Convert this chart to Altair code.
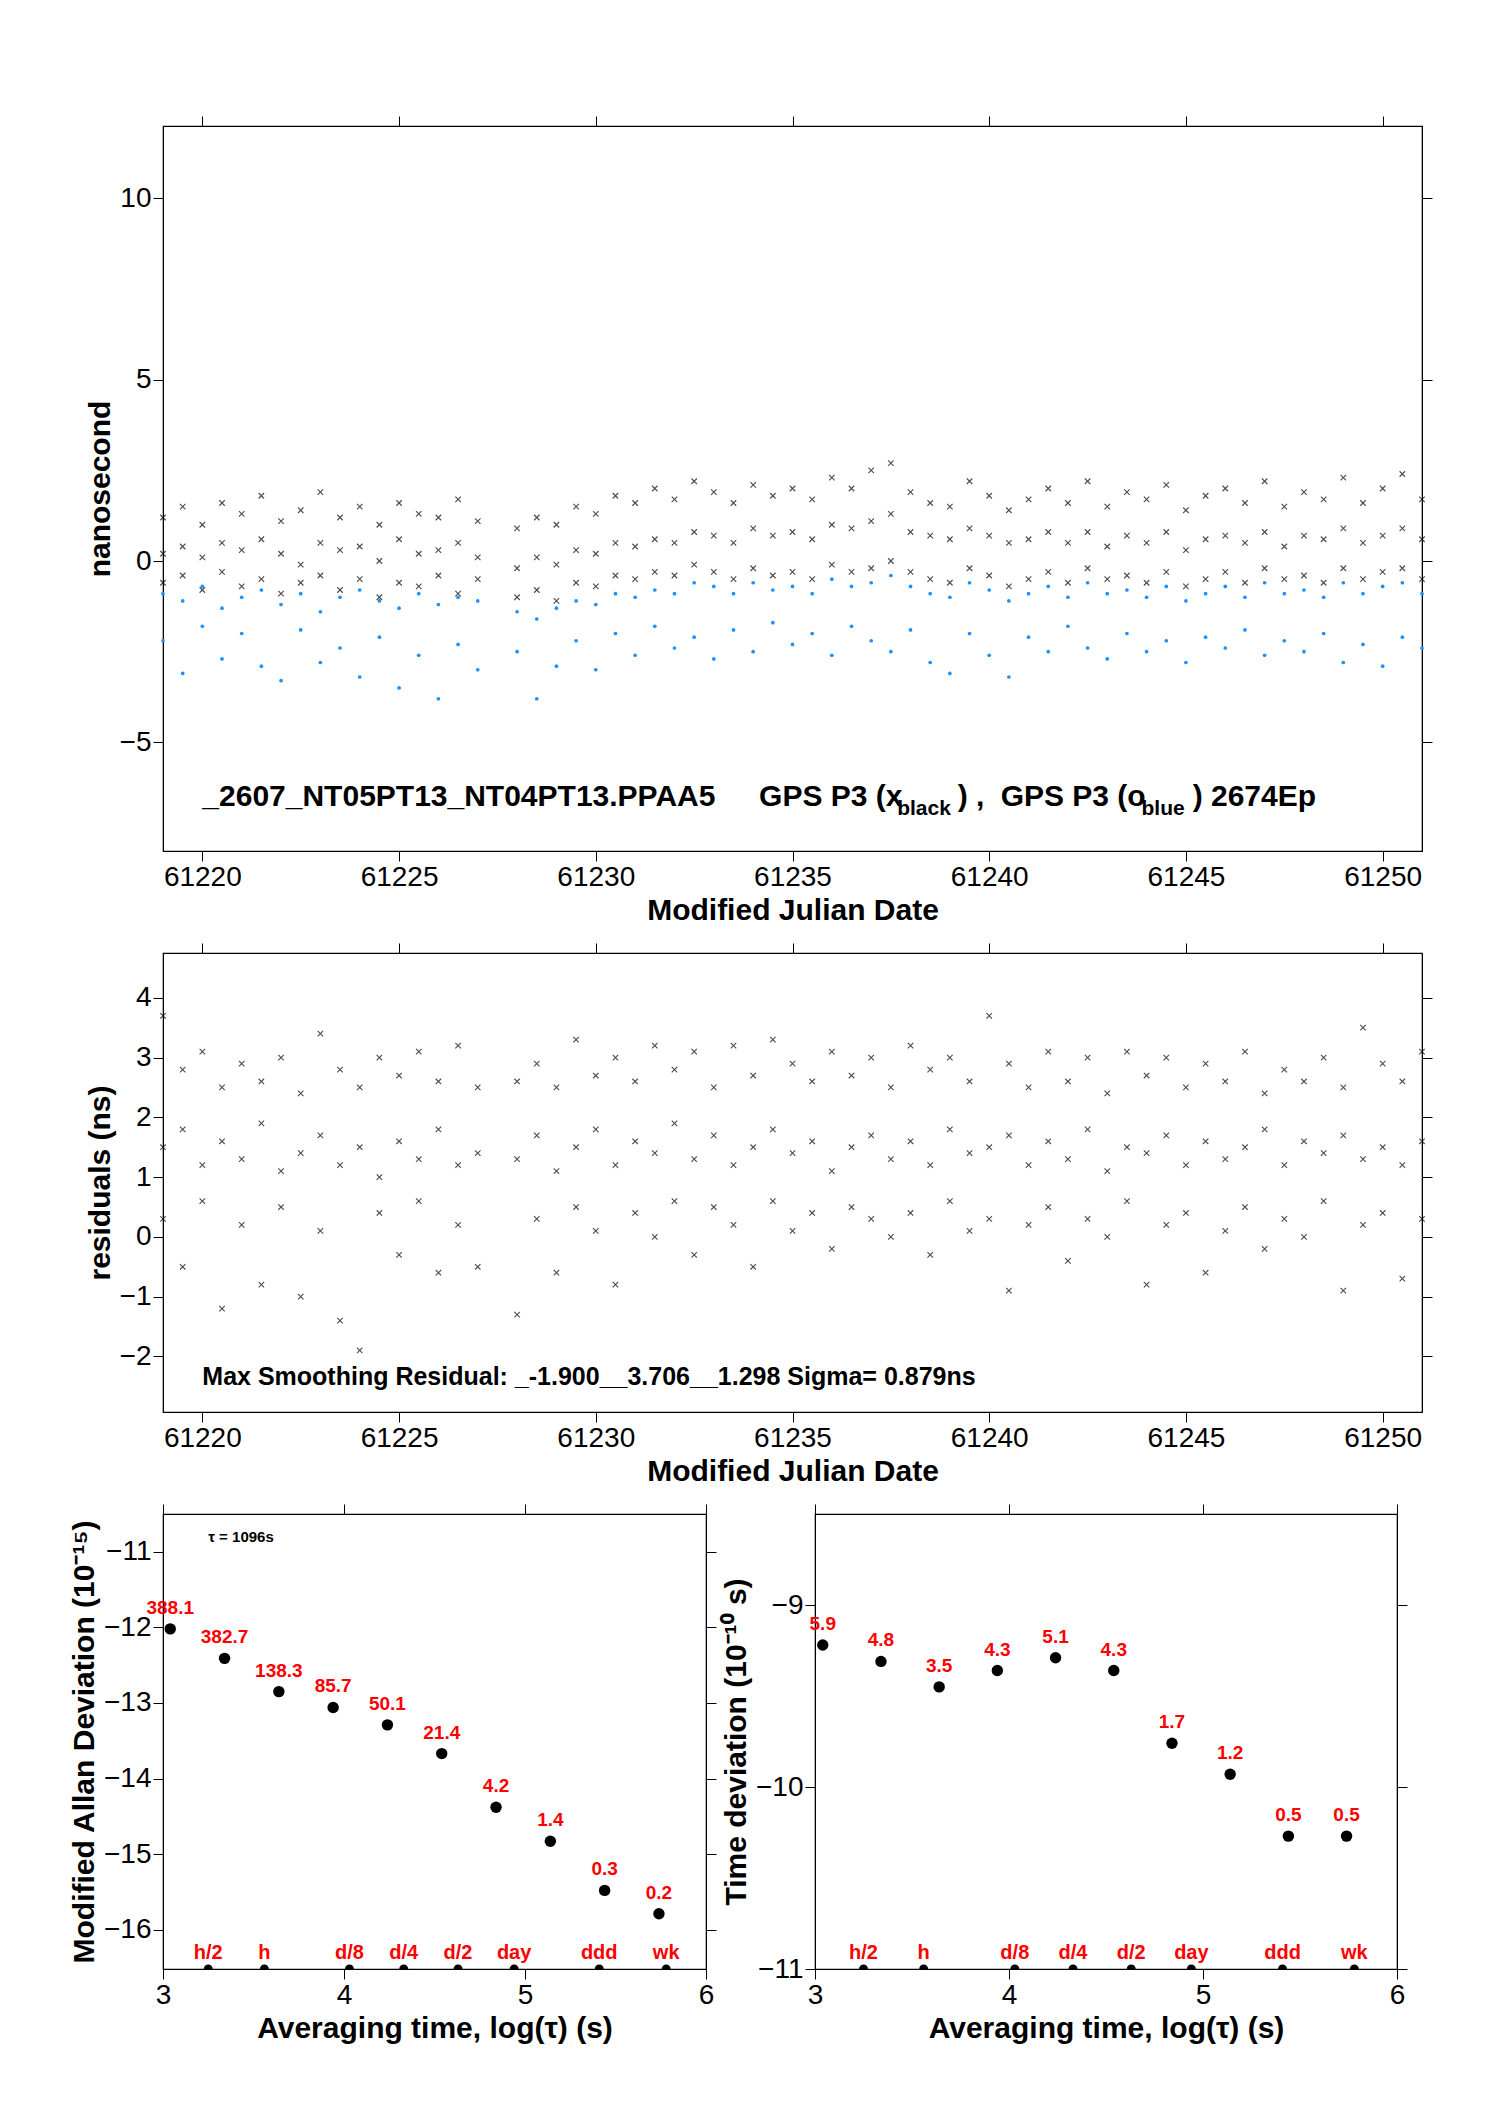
import altair as alt
import pandas as pd

FONT = "Liberation Sans"

# ---- data ----
mjd = [61219.0, 61219.5, 61220.0, 61220.5, 61221.0, 61221.5, 61222.0, 61222.5, 61223.0,
       61223.5, 61224.0, 61224.5, 61225.0, 61225.5, 61226.0, 61226.5, 61227.0,
       61228.0, 61228.5, 61229.0, 61229.5, 61230.0, 61230.5, 61231.0, 61231.5, 61232.0,
       61232.5, 61233.0, 61233.5, 61234.0, 61234.5, 61235.0, 61235.5, 61236.0, 61236.5,
       61237.0, 61237.5, 61238.0, 61238.5, 61239.0, 61239.5, 61240.0, 61240.5, 61241.0,
       61241.5, 61242.0, 61242.5, 61243.0, 61243.5, 61244.0, 61244.5, 61245.0, 61245.5,
       61246.0, 61246.5, 61247.0, 61247.5, 61248.0, 61248.5, 61249.0, 61249.5, 61250.0,
       61250.5, 61251.0]

black_hi = [1.2, 1.5, 1.0, 1.6, 1.3, 1.8, 1.1, 1.4, 1.9, 1.2, 1.5, 1.0, 1.6, 1.3, 1.2, 1.7, 1.1,
            0.9, 1.2, 1.0, 1.5, 1.3, 1.8, 1.6, 2.0, 1.7, 2.2, 1.9, 1.6, 2.1, 1.8, 2.0, 1.7,
            2.3, 2.0, 2.5, 2.7, 1.9, 1.6, 1.5, 2.2, 1.8, 1.4, 1.7, 2.0, 1.6, 2.2, 1.5, 1.9,
            1.7, 2.1, 1.4, 1.8, 2.0, 1.6, 2.2, 1.5, 1.9, 1.7, 2.3, 1.6, 2.0, 2.4, 1.7]
black_mid = [0.2, 0.4, 0.1, 0.5, 0.3, 0.6, 0.2, -0.1, 0.5, 0.3, 0.4, 0.0, 0.6, 0.2, 0.3, 0.5, 0.1,
             -0.2, 0.1, -0.1, 0.3, 0.2, 0.5, 0.4, 0.6, 0.5, 0.8, 0.7, 0.5, 0.9, 0.7, 0.8, 0.6,
             1.0, 0.9, 1.1, 1.3, 0.8, 0.7, 0.6, 0.9, 0.7, 0.5, 0.6, 0.8, 0.5, 0.8, 0.4, 0.7,
             0.5, 0.8, 0.3, 0.6, 0.7, 0.5, 0.8, 0.4, 0.7, 0.6, 0.9, 0.5, 0.7, 0.9, 0.6]
black_lo = [-0.6, -0.4, -0.8, -0.3, -0.7, -0.5, -0.9, -0.6, -0.4, -0.8, -0.5, -1.0, -0.6, -0.7,
            -0.4, -0.9, -0.5,
            -1.0, -0.8, -1.1, -0.6, -0.7, -0.4, -0.5, -0.3, -0.4, -0.1, -0.3, -0.5, -0.2, -0.4,
            -0.3, -0.5, -0.1, -0.3, -0.2, 0.0, -0.3, -0.5, -0.6, -0.2, -0.4, -0.7, -0.5, -0.3,
            -0.6, -0.2, -0.5, -0.4, -0.6, -0.3, -0.7, -0.5, -0.3, -0.6, -0.2, -0.5, -0.4, -0.6,
            -0.2, -0.5, -0.3, -0.2, -0.5]
blue_hi = [-0.9, -1.1, -0.7, -1.3, -1.0, -0.8, -1.2, -0.9, -1.4, -1.0, -0.8, -1.1, -1.3, -0.9,
           -1.2, -1.0, -1.1,
           -1.4, -1.6, -1.3, -1.1, -1.2, -0.9, -1.0, -0.8, -0.9, -0.6, -0.7, -0.9, -0.6, -0.8,
           -0.7, -0.9, -0.5, -0.7, -0.6, -0.4, -0.7, -0.9, -1.0, -0.6, -0.8, -1.1, -0.9, -0.7,
           -1.0, -0.6, -0.9, -0.8, -1.0, -0.7, -1.1, -0.9, -0.7, -1.0, -0.6, -0.9, -0.8, -1.0,
           -0.6, -0.9, -0.7, -0.6, -0.9]
blue_lo = [-2.2, -3.1, -1.8, -2.7, -2.0, -2.9, -3.3, -1.9, -2.8, -2.4, -3.2, -2.1, -3.5, -2.6,
           -3.8, -2.3, -3.0,
           -2.5, -3.8, -2.9, -2.2, -3.0, -2.0, -2.6, -1.8, -2.4, -2.1, -2.7, -1.9, -2.5, -1.7,
           -2.3, -2.0, -2.6, -1.8, -2.2, -2.5, -1.9, -2.8, -3.1, -2.0, -2.6, -3.2, -2.1, -2.5,
           -1.8, -2.4, -2.7, -2.0, -2.5, -2.2, -2.8, -2.1, -2.4, -1.9, -2.6, -2.2, -2.5, -2.0,
           -2.8, -2.3, -2.9, -2.1, -2.4]

res_hi = [3.7, 2.8, 3.1, 2.5, 2.9, 2.6, 3.0, 2.4, 3.4, 2.8, 2.5, 3.0, 2.7, 3.1, 2.6, 3.2, 2.5,
          2.6, 2.9, 2.5, 3.3, 2.7, 3.0, 2.6, 3.2, 2.8, 3.1, 2.5, 3.2, 2.7, 3.3, 2.9, 2.6, 3.1,
          2.7, 3.0, 2.5, 3.2, 2.8, 3.0, 2.6, 3.7, 2.9, 2.5, 3.1, 2.6, 3.0, 2.4, 3.1, 2.7, 3.0,
          2.5, 2.9, 2.6, 3.1, 2.4, 2.8, 2.6, 3.0, 2.5, 3.5, 2.9, 2.6, 3.1]
res_mid = [1.5, 1.8, 1.2, 1.6, 1.3, 1.9, 1.1, 1.4, 1.7, 1.2, 1.5, 1.0, 1.6, 1.3, 1.8, 1.2, 1.4,
           1.3, 1.7, 1.1, 1.5, 1.8, 1.2, 1.6, 1.4, 1.9, 1.3, 1.7, 1.2, 1.5, 1.8, 1.4, 1.6, 1.1,
           1.5, 1.7, 1.3, 1.6, 1.2, 1.8, 1.4, 1.5, 1.7, 1.2, 1.6, 1.3, 1.8, 1.1, 1.5, 1.4, 1.7,
           1.2, 1.6, 1.3, 1.5, 1.8, 1.2, 1.6, 1.4, 1.7, 1.3, 1.5, 1.2, 1.6]
res_lo = [0.3, -0.5, 0.6, -1.2, 0.2, -0.8, 0.5, -1.0, 0.1, -1.4, -1.9, 0.4, -0.3, 0.6, -0.6, 0.2,
          -0.5,
          -1.3, 0.3, -0.6, 0.5, 0.1, -0.8, 0.4, 0.0, 0.6, -0.3, 0.5, 0.2, -0.5, 0.6, 0.1, 0.4,
          -0.2, 0.5, 0.3, 0.0, 0.4, -0.3, 0.6, 0.1, 0.3, -0.9, 0.2, 0.5, -0.4, 0.3, 0.0, 0.6,
          -0.8, 0.2, 0.4, -0.6, 0.1, 0.5, -0.2, 0.3, 0.0, 0.6, -0.9, 0.2, 0.4, -0.7, 0.3]

log_tau = [3.04, 3.34, 3.64, 3.94, 4.24, 4.54, 4.84, 5.14, 5.44, 5.74]
madev = [-12.02, -12.41, -12.85, -13.06, -13.29, -13.67, -14.38, -14.83, -15.48, -15.79]
madev_lbl = ["388.1", "382.7", "138.3", "85.7", "50.1", "21.4", "4.2", "1.4", "0.3", "0.2"]
tdev = [-9.22, -9.31, -9.45, -9.36, -9.29, -9.36, -9.76, -9.93, -10.27, -10.27]
tdev_lbl = ["5.9", "4.8", "3.5", "4.3", "5.1", "4.3", "1.7", "1.2", "0.5", "0.5"]
mark_names = ["h/2", "h", "d/8", "d/4", "d/2", "day", "ddd", "wk"]
mark_tau = [3.25, 3.56, 4.03, 4.33, 4.63, 4.94, 5.41, 5.78]

ann_x = [61220.0, 61234.15, 61237.66, 61239.2, 61240.29, 61243.87, 61245.17]
ann_sub = [False, False, True, False, False, True, False]
ann_txt = ["_2607_NT05PT13_NT04PT13.PPAA5", "GPS P3 (x", "black", ") ,", "GPS P3 (o", "blue",
           ")  2674Ep"]


def long(names, cols):
    rows = []
    for n, c in zip(names, cols):
        for t, v in zip(mjd, c):
            rows.append({"mjd": t, "v": v, "s": n})
    return pd.DataFrame(rows)


black = long(["a", "b", "c"], [black_hi, black_mid, black_lo])
blue = long(["a", "b"], [blue_hi, blue_lo])
resid = long(["a", "b", "c"], [res_hi, res_mid, res_lo])
adev = pd.DataFrame({"x": log_tau, "y": madev, "t": madev_lbl})
tdv = pd.DataFrame({"x": log_tau, "y": tdev, "t": tdev_lbl})
marks = pd.DataFrame({"x": mark_tau, "t": mark_names})

XMARK = "M-1,-1L1,1M1,-1L-1,1"
AX = dict(labelFont=FONT, titleFont=FONT, labelFontSize=28, titleFontSize=30,
          titleFontWeight="bold", tickColor="black", domainColor="black",
          labelColor="black", titleColor="black", tickSize=10, grid=False)


def frame(base_x, base_y, x0, y0, xvals, yvals):
    # invisible layer that carries the top and right tick axes
    return alt.Chart(pd.DataFrame({"x": [x0], "y": [y0]})).mark_point(opacity=0).encode(
        x=alt.X("x:Q", scale=base_x, axis=alt.Axis(orient="top", labels=False, title=None,
                                                   values=xvals, **AX)),
        y=alt.Y("y:Q", scale=base_y, axis=alt.Axis(orient="right", labels=False, title=None,
                                                   values=yvals, **AX)),
    )


def plain(x, y, xs, ys):
    return dict(x=alt.X(x, scale=xs, axis=None), y=alt.Y(y, scale=ys, axis=None))


# ---- top panel ----
mjd_ticks = [61220, 61225, 61230, 61235, 61240, 61245, 61250]
xs_t = alt.Scale(domain=[61219, 61251], nice=False, zero=False)
ys_t = alt.Scale(domain=[-8, 12], nice=False)
xax = alt.Axis(title="Modified Julian Date", values=mjd_ticks, format="d", labelFlush=False, **AX)
top_pts = alt.Chart(black).mark_point(shape=XMARK, size=30, filled=False, color="black",
                                      strokeWidth=1.1).encode(
    x=alt.X("mjd:Q", scale=xs_t, axis=xax),
    y=alt.Y("v:Q", scale=ys_t, axis=alt.Axis(title="nanosecond", values=[-5, 0, 5, 10], **AX)))
top_blue = alt.Chart(blue).mark_circle(size=14, color="#1e90ff", opacity=1).encode(
    **plain("mjd:Q", "v:Q", xs_t, ys_t))
ann = pd.DataFrame({"x": ann_x, "t": ann_txt, "sub": ann_sub})
ann_main = alt.Chart(ann[~ann["sub"]].assign(y=-6.5)).mark_text(
    font=FONT, fontWeight="bold", align="left", color="black", fontSize=30).encode(
    text="t:N", **plain("x:Q", "y:Q", xs_t, ys_t))
ann_sub_l = alt.Chart(ann[ann["sub"]].assign(y=-6.85)).mark_text(
    font=FONT, fontWeight="bold", align="left", color="black", fontSize=21).encode(
    text="t:N", **plain("x:Q", "y:Q", xs_t, ys_t))
top = alt.layer(top_pts, top_blue, ann_main, ann_sub_l,
                frame(xs_t, ys_t, 61220, 0, mjd_ticks, [-5, 0, 5, 10])).resolve_axis(
    x="independent", y="independent").properties(width=1259, height=725)

# ---- residual panel ----
ys_m = alt.Scale(domain=[-2.93, 4.75], nice=False)
res_ticks = [-2, -1, 0, 1, 2, 3, 4]
mid_pts = alt.Chart(resid).mark_point(shape=XMARK, size=30, filled=False, color="black",
                                      strokeWidth=1.1).encode(
    x=alt.X("mjd:Q", scale=xs_t, axis=xax),
    y=alt.Y("v:Q", scale=ys_m, axis=alt.Axis(title="residuals (ns)", values=res_ticks, **AX)))
mid_ann = alt.Chart(pd.DataFrame({"x": [61220.0], "y": [-2.35],
                                  "t": ["Max Smoothing Residual: _-1.900__3.706__1.298  Sigma= 0.879ns"]})
                    ).mark_text(font=FONT, fontWeight="bold", align="left", fontSize=25, color="black").encode(
    text="t:N", **plain("x:Q", "y:Q", xs_t, ys_m))
mid = alt.layer(mid_pts, mid_ann, frame(xs_t, ys_m, 61220, 0, mjd_ticks, res_ticks)).resolve_axis(
    x="independent", y="independent").properties(width=1259, height=459)

# ---- stability panels ----
xs_b = alt.Scale(domain=[3, 6], nice=False, zero=False)
bx_ax = alt.Axis(title="Averaging time, log(τ) (s)", values=[3, 4, 5, 6],
                 format="d", labelFlush=False, **AX)


def stab(df, dom, title, yvals, note):
    ys = alt.Scale(domain=dom, nice=False)
    pts = alt.Chart(df).mark_circle(size=130, color="black", opacity=1).encode(
        x=alt.X("x:Q", scale=xs_b, axis=bx_ax),
        y=alt.Y("y:Q", scale=ys, axis=alt.Axis(title=title, values=yvals, format="d", **AX)))
    lbl = alt.Chart(df).mark_text(font=FONT, fontWeight="bold", color="red", fontSize=19,
                                  dy=-21).encode(text="t:N", **plain("x:Q", "y:Q", xs_b, ys))
    mk = marks.assign(y=dom[0])
    mdots = alt.Chart(mk).mark_circle(size=80, color="black", opacity=1, clip=True).encode(
        **plain("x:Q", "y:Q", xs_b, ys))
    mlbl = alt.Chart(mk).mark_text(font=FONT, fontWeight="bold", color="red", fontSize=20,
                                   dy=-6, baseline="bottom").encode(
        text="t:N", **plain("x:Q", "y:Q", xs_b, ys))
    layers = [pts, lbl, mdots, mlbl]
    if note:
        layers.append(alt.Chart(pd.DataFrame({"x": [3.25], "y": [dom[1] - 0.3], "t": [note]})).mark_text(
            font=FONT, fontWeight="bold", align="left", fontSize=15, color="black").encode(
            text="t:N", **plain("x:Q", "y:Q", xs_b, ys)))
    layers.append(frame(xs_b, ys, 3, dom[0], [3, 4, 5, 6], yvals))
    return alt.layer(*layers).resolve_axis(x="independent", y="independent")


bl = stab(adev, [-16.52, -10.5], "Modified Allan Deviation (10⁻¹⁵)",
          [-16, -15, -14, -13, -12, -11], "τ = 1096s").properties(width=543, height=455)
br = stab(tdv, [-11, -8.5], "Time deviation (10⁻¹⁰ s)",
          [-11, -10, -9], None).properties(width=582, height=455)

chart = alt.vconcat(top, mid, alt.hconcat(bl, br, spacing=2), spacing=15).configure(
    padding={"left": 60, "top": 106, "right": 20, "bottom": 20}, background="white",
    view=alt.ViewConfig(stroke="black", strokeWidth=1.2))

chart.save("out.html", embed_options={"renderer": "svg", "actions": False})
